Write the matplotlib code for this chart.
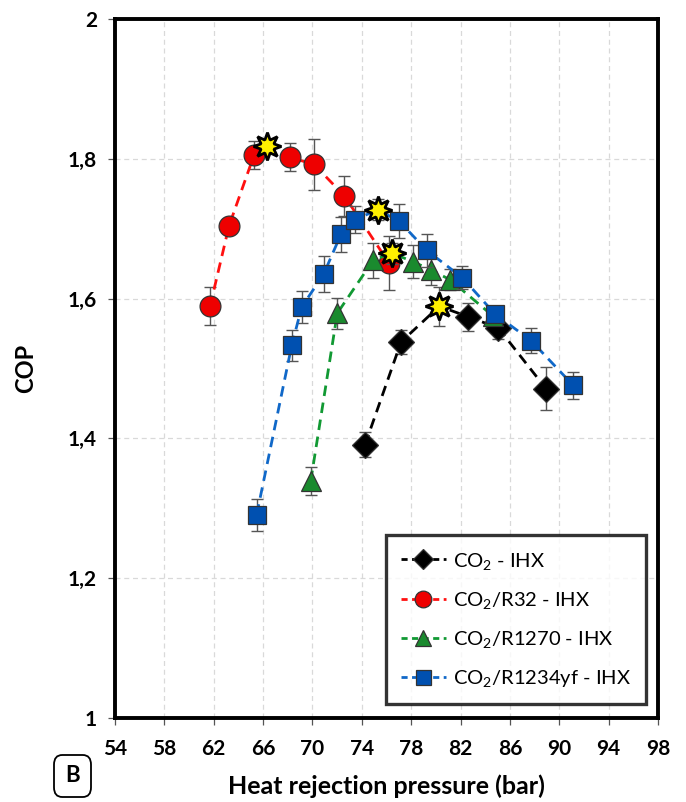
import matplotlib
matplotlib.use("Agg")
import matplotlib.pyplot as plt
from matplotlib.lines import Line2D
from matplotlib.patches import FancyBboxPatch

plt.rcParams['font.family'] = ['Lato', 'DejaVu Sans']
plt.rcParams['mathtext.fontset'] = 'custom'
plt.rcParams['mathtext.rm'] = 'Lato'
plt.rcParams['mathtext.it'] = 'Lato:italic'
plt.rcParams['mathtext.bf'] = 'Lato:bold'

# ---------------- data ----------------
labels = ["CO$_\\mathrm{2}$ - IHX", "CO$_\\mathrm{2}$/R32 - IHX",
          "CO$_\\mathrm{2}$/R1270 - IHX", "CO$_\\mathrm{2}$/R1234yf - IHX"]

co2_p   = [74.26, 77.18, 80.28, 82.63, 85.06, 88.93]
co2_cop = [1.391, 1.538, 1.589, 1.574, 1.558, 1.471]
co2_err = [0.018, 0.017, 0.028, 0.020, 0.016, 0.031]
co2_opt = 2

r32_p   = [61.70, 63.24, 65.26, 66.29, 68.18, 70.13, 72.58, 76.20]
r32_cop = [1.589, 1.704, 1.805, 1.818, 1.802, 1.792, 1.747, 1.651]
r32_err = [0.027, 0.012, 0.020, 0.010, 0.020, 0.037, 0.029, 0.039]
r32_opt = 3

r1270_p   = [69.86, 72.01, 74.93, 76.45, 78.12, 79.61, 81.15, 84.63]
r1270_cop = [1.339, 1.579, 1.655, 1.665, 1.653, 1.641, 1.627, 1.575]
r1270_err = [0.020, 0.022, 0.025, 0.015, 0.024, 0.022, 0.015, 0.012]
r1270_opt = 3

r1234_p   = [65.48, 68.32, 69.13, 70.91, 72.31, 73.45, 75.29, 77.01, 79.26,
             82.14, 84.79, 87.71, 91.12]
r1234_cop = [1.291, 1.533, 1.588, 1.635, 1.692, 1.713, 1.727, 1.711, 1.669,
             1.630, 1.578, 1.540, 1.476]
r1234_err = [0.023, 0.022, 0.023, 0.026, 0.025, 0.019, 0.015, 0.024, 0.024,
             0.016, 0.012, 0.018, 0.019]
r1234_opt = 6

x_ticks = [54, 58, 62, 66, 70, 74, 78, 82, 86, 90, 94, 98]
y_ticks = [1.0, 1.2, 1.4, 1.6, 1.8, 2.0]
y_tick_labels = ["1", "1,2", "1,4", "1,6", "1,8", "2"]

# --------------- styling ---------------
series = [
    (co2_p, co2_cop, co2_err, co2_opt, dict(line='#000000', face='#000000', marker='D', ms=13)),
    (r32_p, r32_cop, r32_err, r32_opt, dict(line='#FF1010', face='#EE0000', marker='o', ms=15)),
    (r1270_p, r1270_cop, r1270_err, r1270_opt, dict(line='#119933', face='#1A8A2E', marker='^', ms=15)),
    (r1234_p, r1234_cop, r1234_err, r1234_opt, dict(line='#1068C8', face='#0050B0', marker='s', ms=13.5)),
]

fig = plt.figure(figsize=(6.86, 8.02), dpi=100)
ax = fig.add_axes([115/686, 1-718/802, 543/686, 699/802])

ax.set_xlim(54, 98)
ax.set_ylim(1.0, 2.0)
ax.set_xticks(x_ticks)
ax.set_xticklabels([str(t) for t in x_ticks])
ax.set_yticks(y_ticks)
ax.set_yticklabels(y_tick_labels)
ax.grid(True, color='#D9D9D9', linestyle=(0, (4, 3)), linewidth=0.9)
ax.set_axisbelow(True)
for s in ax.spines.values():
    s.set_linewidth(2.8)
    s.set_color('black')
ax.tick_params(axis='both', direction='out', length=5, width=0.9, color='#555555',
               labelsize=15, pad=8)
for lab in ax.get_xticklabels() + ax.get_yticklabels():
    lab.set_fontweight('bold')
ax.tick_params(axis='x', pad=10)

handles = []
z = 3
for (px, cy, err, opt, st) in series:
    ax.errorbar(px, cy, yerr=err, fmt='none', ecolor='#555555', elinewidth=1.0,
                capsize=4, capthick=1.0, zorder=z)
    ax.plot(px, cy, color=st['line'], linestyle=(0, (3.8, 2.4)), linewidth=2.0, zorder=z + 0.1)
    idx = [i for i in range(len(px)) if i != opt]
    ax.plot([px[i] for i in idx], [cy[i] for i in idx], linestyle='none',
            marker=st['marker'], markersize=st['ms'], markerfacecolor=st['face'],
            markeredgecolor='#333333', markeredgewidth=0.9, zorder=z + 0.2)
    handles.append(Line2D([], [], color=st['line'], linestyle=(0, (2.2, 1.6)), linewidth=2.0,
                          marker=st['marker'], markersize=st['ms'] * 0.8,
                          markerfacecolor=st['face'], markeredgecolor='#333333',
                          markeredgewidth=0.9))
    z += 1

# optimum stars
for (px, cy, err, opt, st) in series:
    ax.plot([px[opt]], [cy[opt]], linestyle='none', marker=(8, 1, 0), markersize=20,
            markerfacecolor='#FFF000', markeredgecolor='black', markeredgewidth=2.0, zorder=20)

leg = ax.legend(handles, labels, loc='lower right', bbox_to_anchor=(0.977, 0.020),
                borderaxespad=0, fontsize=14.5, frameon=True, fancybox=False,
                handlelength=2.2, handletextpad=0.35, labelspacing=0.9,
                borderpad=0.75, numpoints=1)
leg.get_frame().set_edgecolor('black')
leg.get_frame().set_linewidth(2.4)
leg.set_zorder(30)

ax.set_xlabel("Heat rejection pressure (bar)", fontsize=18, fontweight='bold', labelpad=11)
ax.set_ylabel("COP", fontsize=17, fontweight='bold', labelpad=22)

# panel label "B"
fig.patches.append(FancyBboxPatch((54/686, 1-797/802), 37/686, 42/802,
                                  boxstyle="round,pad=0,rounding_size=0.012",
                                  transform=fig.transFigure, facecolor='white',
                                  edgecolor='black', linewidth=1.3))
fig.text(72.5/686, 1-776/802, "B", ha='center', va='center', fontsize=16, fontweight='bold')

fig.savefig("out.png", dpi=100)
